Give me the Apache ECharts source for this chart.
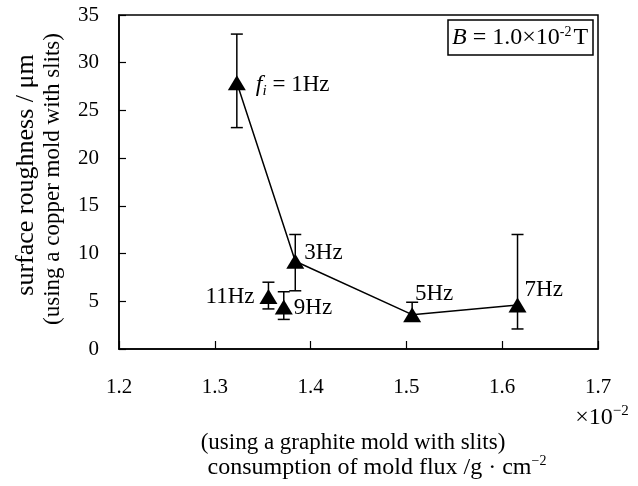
<!DOCTYPE html>
<html>
<head>
<meta charset="utf-8">
<script src="https://cdn.jsdelivr.net/npm/echarts@6/dist/echarts.min.js"></script>
<style>
  html, body { margin: 0; padding: 0; background: #fff; }
  #chart { width: 638px; height: 486px; }
</style>
</head>
<body>
<div id="chart"></div>
<script>
// frequency of each run, in drawing order
const freqLabels = ['1Hz', '3Hz', '5Hz', '7Hz', '9Hz', '11Hz'];
// consumption of mold flux (x 10^-2 g/cm2)
const flux = [1.323, 1.384, 1.506, 1.616, 1.372, 1.356];
// surface roughness (um)
const roughness = [27.9, 9.2, 3.6, 4.6, 4.4, 5.5];
const errLow = [23.2, 6.1, 3.0, 2.1, 3.1, 4.2];
const errHigh = [33.0, 12.0, 4.9, 12.0, 6.0, 7.0];
// runs joined by the line
const linked = ['1Hz', '3Hz', '5Hz', '7Hz'];

const FONT = '"Liberation Serif", "DejaVu Serif", serif';

const chart = echarts.init(document.getElementById('chart'));

// label placement per point
const labelPos = {
  '1Hz': { position: 'right', distance: 10, offset: [0, 2] },
  '3Hz': { position: 'right', distance: 0, offset: [0, -8] },
  '5Hz': { position: 'top', distance: 2, offset: [22, 0] },
  '7Hz': { position: 'right', distance: 0, offset: [-2, -15] },
  '9Hz': { position: 'right', distance: 1, offset: [0, 1] },
  '11Hz': { position: 'left', distance: 5, offset: [0, 0] }
};

const scatterData = freqLabels.map(function (f, i) {
  const lp = labelPos[f];
  return {
    value: [flux[i], roughness[i]],
    name: f,
    label: {
      show: true,
      position: lp.position,
      distance: lp.distance,
      offset: lp.offset,
      formatter: f === '1Hz' ? '{it|f}{sub|i} = 1Hz' : f
    }
  };
});

const lineData = linked.map(function (f) {
  const i = freqLabels.indexOf(f);
  return [flux[i], roughness[i]];
});

const errData = freqLabels.map(function (f, i) {
  return [flux[i], errLow[i], errHigh[i]];
});

const option = {
  animation: false,
  backgroundColor: '#fff',
  textStyle: { fontFamily: FONT, color: '#000' },
  grid: {
    left: 119, right: 40, top: 15, bottom: 137,
    show: true, borderColor: '#000', borderWidth: 1.5, backgroundColor: 'transparent'
  },
  xAxis: {
    type: 'value',
    min: 1.2, max: 1.7, interval: 0.1,
    axisLine: { show: true, lineStyle: { color: '#000', width: 1.5 } },
    axisTick: { show: true, inside: true, length: 8, lineStyle: { color: '#000', width: 1.2 } },
    axisLabel: {
      margin: 28, fontSize: 21, fontFamily: FONT, color: '#000',
      formatter: function (v) { return v.toFixed(1); }
    },
    splitLine: { show: false }
  },
  yAxis: {
    type: 'value',
    min: 0, max: 35, interval: 5,
    axisLine: { show: true, lineStyle: { color: '#000', width: 1.5 } },
    axisTick: { show: true, inside: true, length: 7, lineStyle: { color: '#000', width: 1.2 } },
    axisLabel: { margin: 20, fontSize: 21, fontFamily: FONT, color: '#000' },
    splitLine: { show: false }
  },
  series: [
    {
      type: 'custom',
      z: 1,
      data: errData,
      renderItem: function (params, api) {
        const lo = api.coord([api.value(0), api.value(1)]);
        const hi = api.coord([api.value(0), api.value(2)]);
        const cap = 6;
        const style = { stroke: '#000', lineWidth: 1.5 };
        return {
          type: 'group',
          children: [
            { type: 'line', shape: { x1: lo[0], y1: lo[1], x2: hi[0], y2: hi[1] }, style: style },
            { type: 'line', shape: { x1: lo[0] - cap, y1: lo[1], x2: lo[0] + cap, y2: lo[1] }, style: style },
            { type: 'line', shape: { x1: hi[0] - cap, y1: hi[1], x2: hi[0] + cap, y2: hi[1] }, style: style }
          ]
        };
      }
    },
    {
      type: 'line',
      z: 2,
      data: lineData,
      symbol: 'none',
      lineStyle: { color: '#000', width: 1.5 }
    },
    {
      type: 'scatter',
      z: 3,
      data: scatterData,
      symbol: 'triangle',
      symbolSize: [18, 15],
      itemStyle: { color: '#000', opacity: 1 },
      label: {
        color: '#000',
        opacity: 1,
        textBorderWidth: 0,
        fontSize: 23,
        fontFamily: FONT,
        rich: {
          it: { fontSize: 24, fontStyle: 'italic', fontFamily: FONT, color: '#000' },
          sub: { fontSize: 15, fontStyle: 'italic', fontFamily: FONT, color: '#000', padding: [12, 0, 0, 0] }
        }
      }
    }
  ],
  graphic: [
    {
      type: 'rect',
      shape: { x: 448, y: 20, width: 145, height: 35 },
      style: { fill: '#fff', stroke: '#000', lineWidth: 1.5 },
      z: 10
    },
    {
      type: 'text',
      x: 452, y: 38,
      z: 11,
      style: {
        text: '{b|B} = 1.0×10{sup|-2}T',
        fontSize: 24, fontFamily: FONT, fill: '#000',
        verticalAlign: 'middle',
        rich: {
          b: { fontSize: 24, fontStyle: 'italic', fontFamily: FONT },
          sup: { fontSize: 14, fontFamily: FONT, padding: [0, 2, 12, 0] }
        }
      }
    },
    {
      type: 'text',
      x: 26, y: 175, rotation: Math.PI / 2,
      style: {
        text: 'surface roughness / μm',
        fontSize: 26, fontFamily: FONT, fill: '#000',
        align: 'center', verticalAlign: 'middle'
      }
    },
    {
      type: 'text',
      x: 53, y: 179, rotation: Math.PI / 2,
      style: {
        text: '(using a copper mold with slits)',
        fontSize: 23, fontFamily: FONT, fill: '#000',
        align: 'center', verticalAlign: 'middle'
      }
    },
    {
      type: 'text',
      x: 353, y: 443,
      style: {
        text: '(using a graphite mold with slits)',
        fontSize: 23, fontFamily: FONT, fill: '#000',
        align: 'center', verticalAlign: 'middle'
      }
    },
    {
      type: 'text',
      x: 377, y: 468,
      style: {
        text: 'consumption of mold flux /g · cm{sup|−2}',
        fontSize: 24, fontFamily: FONT, fill: '#000',
        align: 'center', verticalAlign: 'middle',
        rich: { sup: { fontSize: 14, fontFamily: FONT, padding: [0, 0, 14, 0] } }
      }
    },
    {
      type: 'text',
      x: 602, y: 418,
      style: {
        text: '×10{sup|−2}',
        fontSize: 24, fontFamily: FONT, fill: '#000',
        align: 'center', verticalAlign: 'middle',
        rich: { sup: { fontSize: 15, fontFamily: FONT, padding: [0, 0, 13, 0] } }
      }
    }
  ]
};

chart.setOption(option);
</script>
</body>
</html>
